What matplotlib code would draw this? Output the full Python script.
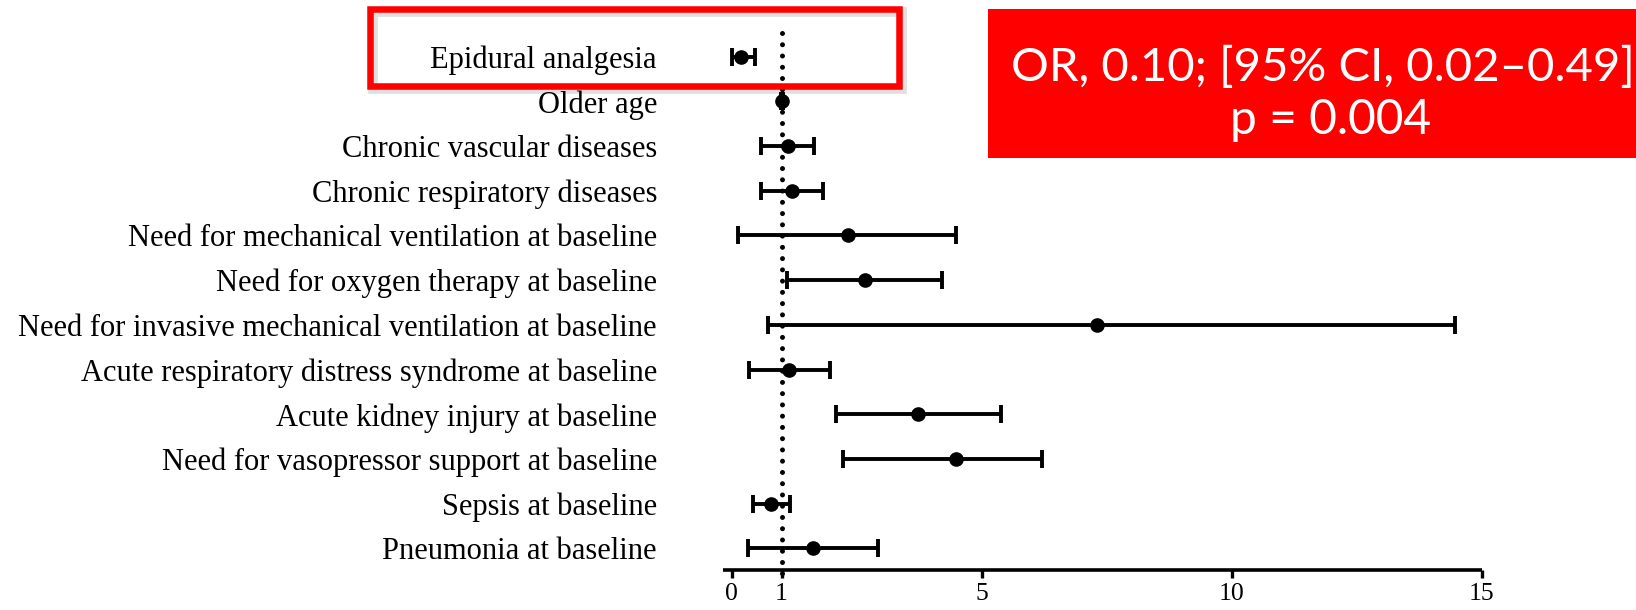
import matplotlib
matplotlib.use("Agg")
import matplotlib.pyplot as plt
from matplotlib.patches import Rectangle
import numpy as np

# ---------------- data ----------------
labels = [
    "Epidural analgesia",
    "Older age",
    "Chronic vascular diseases",
    "Chronic respiratory diseases",
    "Need for mechanical ventilation at baseline",
    "Need for oxygen therapy at baseline",
    "Need for invasive mechanical ventilation at baseline",
    "Acute respiratory distress syndrome at baseline",
    "Acute kidney injury at baseline",
    "Need for vasopressor support at baseline",
    "Sepsis at baseline",
    "Pneumonia at baseline",
]
odds = [0.19, 1.00, 1.12, 1.21, 2.32, 2.67, 7.30, 1.14, 3.73, 4.49, 0.78, 1.62]
ci_low = [0.00, 0.98, 0.59, 0.59, 0.13, 1.10, 0.72, 0.34, 2.08, 2.23, 0.43, 0.32]
ci_high = [0.47, 1.03, 1.65, 1.83, 4.49, 4.21, 14.47, 1.96, 5.39, 6.20, 1.16, 2.93]
xticks = [0, 1, 5, 10, 15]
reference_or = 1
annot_lines = ["OR, 0.10; [95% CI, 0.02\u20130.49]", "p = 0.004"]

# ---------------- figure ----------------
W, H = 1636, 610
DPI = 100
fig = plt.figure(figsize=(W / DPI, H / DPI), dpi=DPI)
fig.patch.set_facecolor("white")

def fx(px):
    return px / W

def fy(py):
    return (H - py) / H

axis_left_px, axis_right_px = 723.0, 1481.7
axis_y_px = 570.0
ax = fig.add_axes([fx(axis_left_px), fy(axis_y_px),
                   fx(axis_right_px) - fx(axis_left_px), axis_y_px / H])

odds_a = np.array(odds)
lo = odds_a - np.array(ci_low)
hi = np.array(ci_high) - odds_a
ypos = np.arange(len(labels))

# reference dotted line
ax.plot([reference_or, reference_or], [-0.53, 11.6], color="black", lw=3.6,
        linestyle=(0, (0.001, 2.25)), dash_capstyle="round", zorder=1,
        clip_on=False)

ax.errorbar(odds_a, ypos, xerr=[lo, hi], fmt="o", color="black", ms=9.5,
            elinewidth=2.8, capsize=6.4, capthick=2.8, zorder=3)

row0_px, row_step = 56.7, 44.7
ax.set_ylim((axis_y_px - row0_px) / row_step, (0 - row0_px) / row_step)
ax.set_xlim(-0.17, 15)

for s in ["top", "right", "left"]:
    ax.spines[s].set_visible(False)
ax.spines["bottom"].set_linewidth(2.6)
ax.spines["bottom"].set_capstyle("butt")

ax.set_xticks(xticks)
ax.set_xticklabels([str(t) for t in xticks], fontfamily="Liberation Serif",
                   fontsize=18.5)
ax.tick_params(axis="x", length=5.5, width=2.4, pad=3.5, direction="out")

label_right_px = 657.0
ax.set_yticks(ypos)
ax.set_yticklabels(labels, fontfamily="Liberation Serif", fontsize=22)
ax.tick_params(axis="y", length=0, pad=(axis_left_px - label_right_px) * 72 / DPI)

# ---------------- highlight box around first row ----------------
bx0, bx1, by0, by1 = 370, 899, 9, 86.3
shadow = Rectangle((fx(bx0 + 3), fy(by1 + 3)), fx(bx1) - fx(bx0), fy(by0) - fy(by1),
                   transform=fig.transFigure, fill=False, edgecolor="#000000",
                   lw=7, alpha=0.12, zorder=9)
fig.add_artist(shadow)
box = Rectangle((fx(bx0), fy(by1)), fx(bx1) - fx(bx0), fy(by0) - fy(by1),
                transform=fig.transFigure, fill=False, edgecolor="#FF0000",
                lw=4.7, zorder=10)
fig.add_artist(box)

# ---------------- annotation box ----------------
ax0, ax1, ay0, ay1 = 988, 1636, 9, 157.7
ann = Rectangle((fx(ax0), fy(ay1)), fx(ax1) - fx(ax0), fy(ay0) - fy(ay1),
                transform=fig.transFigure, facecolor="#FF0000", edgecolor="none",
                zorder=10)
fig.add_artist(ann)
fig.text(fx(1323), fy(81.4), annot_lines[0], color="white", fontfamily="Lato",
         fontsize=34, ha="center", va="baseline", zorder=11)
fig.text(fx(1331), fy(133.6), annot_lines[1], color="white", fontfamily="Lato",
         fontsize=34.5, ha="center", va="baseline", zorder=11)

fig.savefig("out.png", dpi=DPI, facecolor="white")
